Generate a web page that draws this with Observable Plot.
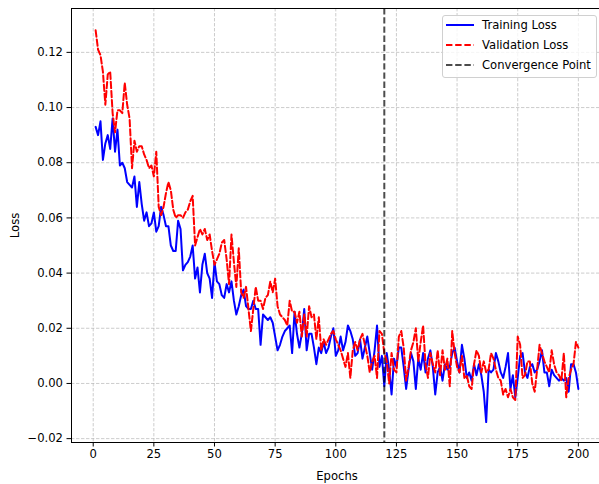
<!DOCTYPE html>
<html><head><meta charset="utf-8">
<script src="https://cdn.jsdelivr.net/npm/d3@7"></script>
<script src="https://cdn.jsdelivr.net/npm/@observablehq/plot@0.6"></script>
<style>
body{margin:0;background:#fff;font-family:"DejaVu Sans",sans-serif;}
#wrap{position:relative;width:599px;height:484px;overflow:hidden;}
#legend{position:absolute;left:442px;top:15px;width:155px;height:63px;border:1px solid #d0d0d0;border-radius:3px;background:rgba(255,255,255,0.8);box-sizing:border-box;font-size:11.6px;color:#000;}
.row{position:absolute;left:3px;height:16px;display:flex;align-items:center;white-space:nowrap;}
.row svg{margin-right:8px;}
</style>
</head><body>
<div id="wrap"><div id="legend"></div></div>
<script>
// Data
const trainingLoss = [
  0.093, 0.090, 0.095, 0.081, 0.087, 0.090, 0.085, 0.096, 0.084, 0.092,
  0.079, 0.080, 0.078, 0.073, 0.072, 0.071, 0.075, 0.064, 0.073, 0.065,
  0.059, 0.062, 0.057, 0.058, 0.062, 0.055, 0.057, 0.064, 0.061, 0.057,
  0.057, 0.050, 0.048, 0.048, 0.059, 0.056, 0.041, 0.043, 0.044, 0.046,
  0.050, 0.038, 0.042, 0.033, 0.043, 0.047, 0.040, 0.038, 0.031, 0.044,
  0.037, 0.036, 0.032, 0.031, 0.036, 0.033, 0.037, 0.030, 0.025, 0.028,
  0.032, 0.034, 0.028, 0.027, 0.027, 0.030, 0.027, 0.027, 0.014, 0.025,
  0.024, 0.023, 0.024, 0.022, 0.017, 0.012, 0.014, 0.017, 0.019, 0.020,
  0.021, 0.011, 0.026, 0.018, 0.013, 0.018, 0.027, 0.012, 0.018, 0.018,
  0.013, 0.007, 0.013, 0.011, 0.015, 0.011, 0.013, 0.017, 0.020, 0.010,
  0.012, 0.017, 0.012, 0.015, 0.021, 0.019, 0.016, 0.010, 0.011, 0.016,
  0.009, 0.013, 0.017, 0.011, 0.005, 0.012, 0.021, 0.006, 0.010, -0.001,
  0.011, 0.005, -0.004, 0.009, 0.006, 0.013, 0.013, 0.006, -0.002, 0.005,
  0.011, 0.008, -0.002, 0.009, 0.005, 0.011, 0.004, 0.009, 0.012, 0.006,
  -0.004, 0.004, 0.006, 0.001, 0.007, 0.005, 0.006, 0.011, 0.013, 0.008,
  0.004, 0.014, 0.009, 0.002, 0.004, 0.001, 0.007, 0.003, 0.007, 0.003,
  -0.003, -0.014, 0.005, 0.004, 0.005, 0.011, 0.008, 0.004, 0.002, 0.006,
  0.011, -0.002, 0.003, -0.005, 0.002, 0.010, 0.011, 0.004, 0.002, 0.006,
  0.007, 0.004, 0.005, 0.008, 0.012, 0.004, 0.004, -0.001, 0.005, 0.003,
  0.002, 0.001, 0.002, 0.001, 0.002, -0.003, 0.007, 0.007, 0.004, -0.002
];
const validationLoss = [
  0.128, 0.121, 0.119, 0.113, 0.101, 0.112, 0.113, 0.098, 0.091, 0.099,
  0.099, 0.098, 0.109, 0.101, 0.096, 0.078, 0.088, 0.084, 0.086, 0.086,
  0.083, 0.081, 0.078, 0.079, 0.075, 0.084, 0.064, 0.061, 0.064, 0.069,
  0.073, 0.070, 0.063, 0.060, 0.061, 0.061, 0.060, 0.062, 0.063, 0.066,
  0.068, 0.050, 0.053, 0.056, 0.054, 0.056, 0.052, 0.054, 0.048, 0.043,
  0.045, 0.047, 0.051, 0.052, 0.045, 0.036, 0.054, 0.044, 0.035, 0.049,
  0.033, 0.031, 0.035, 0.027, 0.019, 0.027, 0.035, 0.030, 0.030, 0.027,
  0.031, 0.032, 0.037, 0.033, 0.038, 0.028, 0.025, 0.024, 0.023, 0.021,
  0.030, 0.026, 0.026, 0.022, 0.026, 0.017, 0.025, 0.017, 0.028, 0.024,
  0.025, 0.016, 0.024, 0.012, 0.016, 0.014, 0.016, 0.018, 0.019, 0.016,
  0.014, 0.012, 0.009, 0.006, 0.011, 0.002, 0.012, 0.015, 0.012, 0.016,
  0.018, 0.014, 0.010, 0.004, 0.008, 0.010, 0.002, 0.019, 0.018, 0.011,
  0.008, 0.000, 0.011, 0.005, 0.004, 0.017, 0.019, 0.013, 0.001, 0.006,
  0.012, 0.015, 0.020, 0.008, 0.015, 0.021, 0.007, 0.002, 0.011, 0.007,
  0.004, 0.012, 0.003, 0.012, 0.005, 0.009, -0.001, 0.019, 0.011, 0.006,
  0.004, 0.010, 0.002, 0.003, -0.001, -0.002, 0.007, 0.012, 0.010, 0.004,
  0.008, 0.004, 0.005, 0.011, 0.009, 0.005, 0.002, 0.001, -0.004, -0.002,
  -0.005, -0.002, -0.005, -0.006, 0.017, 0.014, 0.002, 0.003, 0.008, 0.008,
  0.000, -0.003, 0.005, 0.014, 0.011, 0.008, 0.006, 0.004, 0.012, 0.007,
  0.004, 0.003, 0.001, 0.011, -0.005, 0.002, 0.005, 0.007, 0.015, 0.013
];
const epochs = d3.range(1, trainingLoss.length + 1);
const convergenceEpoch = [120];
const xTicks = [0, 25, 50, 75, 100, 125, 150, 175, 200];
const yTicks = [-0.02, 0.00, 0.02, 0.04, 0.06, 0.08, 0.10, 0.12];
const seriesNames = ["Training Loss", "Validation Loss", "Convergence Point"];

const trainRows = epochs.map((e, i) => ({epoch: e, loss: trainingLoss[i]}));
const valRows = epochs.map((e, i) => ({epoch: e, loss: validationLoss[i]}));

const gridStyle = {stroke: "#b0b0b0", strokeOpacity: 0.7, strokeWidth: 0.9, strokeDasharray: "3.4,1.6"};
const dash = "6.4,2.8";

const chart = Plot.plot({
  width: 599, height: 484,
  marginLeft: 71, marginRight: -3, marginTop: 8, marginBottom: 42,
  style: {fontFamily: "DejaVu Sans", fontSize: "11.6px", color: "#000", background: "#fff", overflow: "hidden"},
  x: {domain: [-8.95, 209.95]},
  y: {domain: [-0.0214, 0.1359]},
  marks: [
    Plot.gridX(xTicks, gridStyle),
    Plot.gridY(yTicks, gridStyle),
    Plot.line(trainRows, {x: "epoch", y: "loss", stroke: "#0000ff", strokeWidth: 2}),
    Plot.line(valRows, {x: "epoch", y: "loss", stroke: "#ff0000", strokeWidth: 2, strokeDasharray: dash}),
    Plot.ruleX(convergenceEpoch, {stroke: "#000", strokeOpacity: 0.7, strokeWidth: 2, strokeDasharray: dash}),
    Plot.frame({stroke: "#000", strokeWidth: 1}),
    Plot.axisX(xTicks, {tickSize: 4.5, tickPadding: 3, label: "Epochs", labelAnchor: "center", labelArrow: "none", labelOffset: 37}),
    Plot.axisY(yTicks, {tickSize: 4.5, tickPadding: 4, tickFormat: d3.format(".2f"), label: "Loss", labelAnchor: "center", labelArrow: "none", labelOffset: 61})
  ]
});
document.getElementById("wrap").prepend(chart);

// Legend
const legendStyles = [
  {stroke: "#0000ff", dash: null, opacity: 1},
  {stroke: "#ff0000", dash: dash, opacity: 1},
  {stroke: "#000", dash: dash, opacity: 0.7}
];
const legend = document.getElementById("legend");
const rowTops = [1, 20.5, 40.5];
seriesNames.forEach((name, i) => {
  const row = document.createElement("div");
  row.className = "row";
  row.style.top = rowTops[i] + "px";
  const s = legendStyles[i];
  row.innerHTML = `<svg width="28" height="16"><line x1="0" x2="28" y1="8" y2="8" stroke="${s.stroke}" stroke-width="2" stroke-opacity="${s.opacity}" ${s.dash ? `stroke-dasharray="${s.dash}"` : ""}/></svg><span>${name}</span>`;
  legend.appendChild(row);
});
</script>
</body></html>
